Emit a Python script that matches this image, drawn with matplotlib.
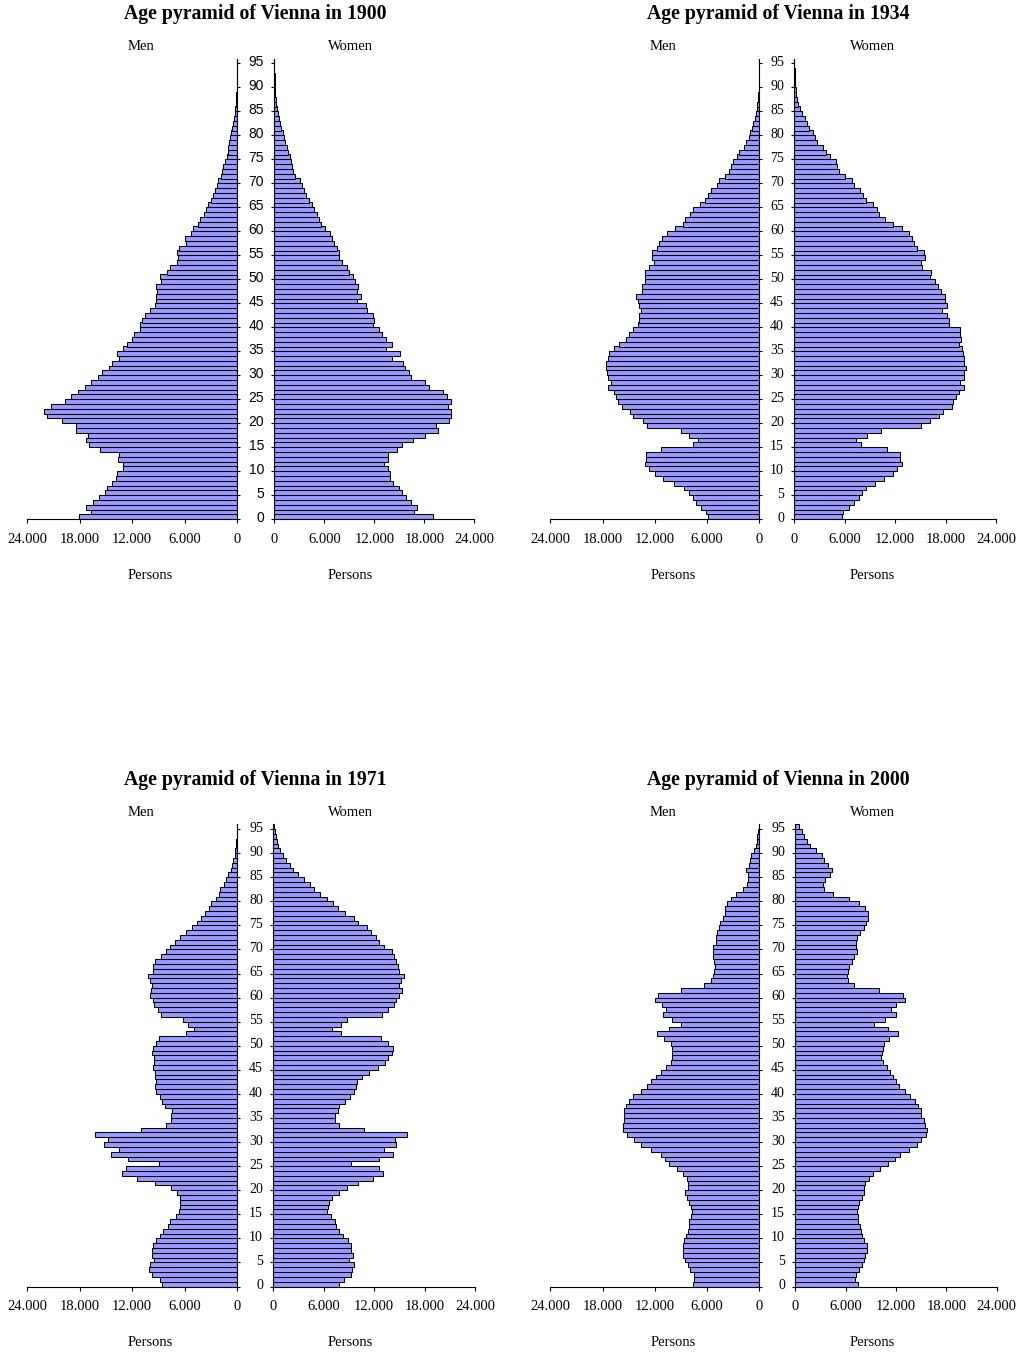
import numpy as np
import matplotlib
matplotlib.use("Agg")
import matplotlib.pyplot as plt
from matplotlib.ticker import FixedLocator, FuncFormatter, NullFormatter

# population by single year of age (thousands), ages 0..95
ages = np.arange(96)

men_1900 = [18.1, 16.7, 17.25, 16.45, 15.8, 15.1, 14.9, 14.3, 13.9, 13.7,
            13.1, 13.1, 13.6, 13.5, 15.7, 16.95, 17.25, 17.05, 18.45, 18.45,
            20.0, 21.7, 22.05, 21.3, 19.7, 19.05, 18.2, 17.4, 16.7, 15.9,
            15.4, 14.6, 14.3, 13.45, 13.75, 13.0, 12.6, 12.0, 11.75, 11.15,
            11.1, 10.85, 10.5, 9.9, 9.35, 9.25, 9.25, 9.15, 9.27, 8.66,
            8.82, 8.02, 7.67, 6.83, 6.72, 6.83, 6.6, 5.8, 5.92, 5.27,
            5.08, 4.47, 4.2, 3.74, 3.51, 3.28, 2.98, 2.71, 2.52, 2.29,
            2.18, 1.87, 1.76, 1.56, 1.34, 1.18, 1.07, 0.99, 0.88, 0.8,
            0.65, 0.53, 0.46, 0.34, 0.23, 0.18, 0.14, 0.1, 0.07, 0.05,
            0.035, 0.025, 0.015, 0.01, 0.005, 0.003]
women_1900 = [19.04, 16.8, 17.16, 16.4, 15.76, 15.36, 14.92, 14.28, 13.84, 13.88,
              13.6, 13.2, 13.68, 13.64, 14.76, 15.32, 16.64, 18.08, 19.64, 19.36,
              21.0, 21.24, 21.24, 20.88, 21.24, 20.72, 20.28, 18.6, 18.04, 16.36,
              16.2, 15.72, 15.48, 14.08, 15.12, 13.44, 14.16, 13.36, 12.92, 12.52,
              11.84, 11.96, 11.88, 11.12, 11.0, 9.96, 10.36, 9.96, 10.04, 9.7,
              9.4, 9.0, 8.68, 8.08, 7.72, 7.8, 7.52, 7.12, 6.88, 6.64,
              6.04, 5.56, 5.32, 5.08, 4.8, 4.48, 4.2, 3.84, 3.52, 3.28,
              3.08, 2.44, 2.28, 2.08, 2.0, 1.84, 1.64, 1.48, 1.32, 1.16,
              1.0, 0.8, 0.68, 0.6, 0.44, 0.32, 0.24, 0.16, 0.12, 0.08,
              0.06, 0.04, 0.03, 0.02, 0.01, 0.005]

men_1934 = [5.86, 6.13, 6.67, 7.32, 7.66, 8.05, 8.62, 9.81, 11.03, 12.03,
            12.61, 13.14, 12.99, 13.03, 11.34, 7.66, 7.09, 8.05, 9.0, 12.84,
            13.37, 14.48, 14.83, 15.75, 16.21, 16.44, 16.74, 17.43, 17.01, 17.32,
            17.51, 17.66, 17.66, 17.43, 17.24, 16.74, 16.09, 15.36, 15.02, 14.56,
            13.95, 13.79, 13.83, 13.6, 13.87, 13.95, 14.21, 13.52, 13.5, 13.1,
            13.1, 13.1, 12.64, 12.11, 12.3, 12.3, 11.69, 11.49, 11.15, 10.57,
            9.69, 8.74, 8.58, 7.97, 7.59, 6.82, 6.21, 5.86, 5.52, 4.9,
            4.64, 3.91, 3.45, 3.22, 2.99, 2.53, 2.3, 1.76, 1.49, 1.15,
            1.07, 0.8, 0.69, 0.5, 0.38, 0.27, 0.23, 0.15, 0.11, 0.08,
            0.06, 0.04, 0.03, 0.02, 0.01, 0.01]
women_1934 = [5.67, 5.83, 6.55, 7.14, 7.7, 8.1, 8.49, 9.56, 10.71, 11.79,
              12.26, 12.86, 12.62, 12.54, 11.07, 7.9, 7.38, 8.69, 10.36, 15.12,
              16.19, 17.22, 17.74, 18.81, 18.93, 19.29, 19.64, 20.24, 19.76, 20.24,
              20.16, 20.48, 20.16, 20.16, 20.12, 20.0, 19.64, 19.88, 19.76, 19.76,
              18.45, 18.45, 18.21, 17.62, 18.21, 17.9, 17.98, 17.5, 17.14, 16.71,
              16.19, 16.31, 15.24, 15.04, 15.6, 15.48, 14.64, 14.29, 14.05, 13.61,
              12.86, 11.79, 10.75, 10.12, 9.88, 9.33, 8.49, 8.21, 7.86, 7.14,
              6.9, 6.07, 5.36, 5.08, 4.96, 4.29, 3.81, 3.45, 2.66, 2.42,
              2.26, 1.75, 1.47, 1.23, 0.87, 0.67, 0.44, 0.32, 0.24, 0.16,
              0.12, 0.08, 0.05, 0.03, 0.02, 0.01]

men_1971 = [8.55, 8.85, 9.69, 10.11, 9.92, 9.47, 9.77, 9.77, 9.62, 9.24,
            8.78, 8.44, 7.86, 7.63, 7.02, 6.64, 6.49, 6.49, 6.53, 6.9,
            7.59, 9.35, 11.44, 13.16, 12.66, 8.96, 12.51, 14.38, 13.54, 15.22,
            14.72, 16.25, 11.02, 8.12, 7.55, 7.55, 7.47, 8.21, 8.55, 8.85,
            9.31, 9.39, 9.31, 9.39, 9.39, 9.57, 9.46, 9.5, 9.73, 9.65,
            9.27, 8.89, 5.84, 4.88, 5.64, 6.14, 8.73, 9.04, 9.46, 9.65,
            9.95, 9.88, 9.76, 9.92, 10.23, 9.66, 9.62, 9.43, 8.74, 8.17,
            7.67, 7.14, 6.53, 5.88, 5.11, 4.62, 4.08, 3.63, 3.17, 2.98,
            2.44, 2.06, 1.91, 1.49, 1.26, 0.99, 0.69, 0.53, 0.42, 0.27,
            0.19, 0.11, 0.08, 0.04, 0.02, 0.01]
women_1971 = [7.82, 8.45, 9.21, 9.4, 9.64, 9.05, 9.52, 9.29, 9.29, 8.85,
              8.33, 7.78, 7.5, 7.3, 6.9, 6.43, 6.55, 6.63, 6.98, 7.86,
              8.81, 10.12, 11.9, 13.1, 12.62, 9.21, 12.62, 14.29, 13.21, 14.61,
              14.49, 15.88, 10.83, 7.86, 7.38, 7.38, 7.74, 7.86, 8.57, 9.09,
              9.64, 9.88, 10.0, 10.56, 11.35, 12.5, 13.3, 13.69, 14.09, 14.29,
              13.69, 12.82, 8.1, 6.95, 8.02, 8.73, 12.9, 13.61, 14.4, 14.56,
              14.92, 15.28, 15.0, 15.24, 15.6, 14.92, 14.8, 14.6, 14.4, 14.09,
              13.21, 12.62, 12.22, 11.59, 11.11, 10.04, 9.56, 8.57, 7.7, 7.06,
              6.39, 5.6, 4.8, 4.37, 3.61, 2.9, 2.38, 1.98, 1.47, 1.11,
              0.83, 0.6, 0.4, 0.32, 0.24, 0.12]

men_2000 = [7.66, 7.46, 7.54, 8.0, 8.23, 8.5, 8.73, 8.8, 8.77, 8.61,
            8.42, 8.23, 8.08, 8.04, 7.89, 7.77, 7.81, 8.04, 8.31, 8.54,
            8.23, 8.15, 8.34, 8.73, 9.49, 10.37, 10.87, 11.33, 12.44, 13.55,
            14.43, 15.23, 15.62, 15.66, 15.58, 15.58, 15.54, 15.35, 15.0, 14.51,
            13.63, 12.86, 12.4, 11.87, 11.25, 10.68, 10.14, 10.03, 9.99, 10.0,
            10.18, 10.91, 11.71, 10.41, 8.96, 10.03, 11.06, 10.68, 11.18, 12.02,
            11.6, 9.03, 6.35, 5.51, 5.36, 5.21, 5.13, 5.24, 5.28, 5.28,
            5.32, 5.01, 4.94, 4.86, 4.67, 4.52, 4.21, 3.98, 3.91, 3.67,
            3.22, 2.72, 1.91, 1.38, 1.26, 1.34, 1.49, 1.22, 1.07, 0.96,
            0.61, 0.38, 0.31, 0.23, 0.15, 0.08]
women_2000 = [7.47, 7.15, 7.27, 7.63, 7.95, 8.14, 8.34, 8.5, 8.5, 8.14,
              7.95, 7.79, 7.67, 7.51, 7.51, 7.39, 7.43, 7.55, 7.91, 8.14,
              8.18, 8.34, 8.74, 9.22, 10.05, 11.0, 11.84, 12.51, 13.59, 14.46,
              14.94, 15.53, 15.69, 15.49, 15.3, 15.02, 14.94, 14.66, 14.22, 13.71,
              13.07, 12.32, 11.96, 11.68, 11.32, 10.89, 10.49, 10.21, 10.3, 10.4,
              10.61, 11.2, 12.2, 11.0, 9.34, 10.73, 11.96, 11.44, 11.96, 13.11,
              12.79, 10.01, 7.03, 6.32, 6.2, 6.24, 6.44, 6.75, 6.95, 7.31,
              7.27, 7.23, 7.39, 7.75, 8.22, 8.46, 8.62, 8.62, 8.34, 7.63,
              6.44, 4.53, 3.38, 3.3, 3.54, 4.13, 4.37, 3.89, 3.46, 3.14,
              2.42, 1.75, 1.39, 1.07, 0.79, 0.48]

x_ticks = [0, 6, 12, 18, 24]
age_labels = list(range(0, 96, 5))

W, H = 1029, 1352
BAR = "#9999FF"
SERIF = "Liberation Serif"
SANS = "Liberation Sans"

plt.rcParams["font.family"] = SERIF


def box(x0, x1, top, bottom):
    return [x0 / W, 1 - bottom / H, (x1 - x0) / W, (bottom - top) / H]


def persons(v, pos=None):
    return f"{int(round(v * 1000)):,}".replace(",", ".")


def text_at(fig, x, y, s, **kw):
    fig.text(x / W, 1 - y / H, s, ha="center", va="baseline", **kw)


def pyramid(fig, year, men, women, men_x, women_x, top, bottom, cx, mx, wx, pmx, age_font):
    ax_m = fig.add_axes(box(men_x[0], men_x[1], top, bottom))
    ax_w = fig.add_axes(box(women_x[0], women_x[1], top, bottom))

    for ax, vals in ((ax_m, men), (ax_w, women)):
        ax.barh(ages, vals, height=1.0, color=BAR, edgecolor="black", linewidth=0.75)
        ax.set_ylim(-0.5, 95.5)
        ax.set_xlim(0, 24)
        ax.xaxis.set_major_locator(FixedLocator(x_ticks))
        ax.xaxis.set_major_formatter(FuncFormatter(persons))
        ax.tick_params(axis="x", direction="out", length=3, width=0.8, pad=7, labelsize=10.5)
        ax.yaxis.set_major_locator(FixedLocator(np.arange(-0.5, 95, 5)))
        ax.yaxis.set_major_formatter(NullFormatter())
        ax.spines["top"].set_visible(False)
        for sp in ax.spines.values():
            sp.set_linewidth(0.8)
        ax.set_facecolor("none")

    ax_m.invert_xaxis()
    ax_m.spines["left"].set_visible(False)
    ax_m.yaxis.tick_right()
    ax_m.tick_params(axis="y", which="major", direction="out", length=2, width=0.8)

    ax_w.spines["right"].set_visible(False)
    ax_w.tick_params(axis="y", which="major", direction="out", length=2, width=0.8)
    ax_w.yaxis.set_minor_locator(FixedLocator(age_labels))
    ax_w.yaxis.set_minor_formatter(FuncFormatter(lambda v, p: f"{int(round(v))}"))
    ax_w.tick_params(axis="y", which="minor", length=0, pad=7.5, labelsize=10,
                     labelfontfamily=age_font)

    text_at(fig, cx, top - 39.2, f"Age pyramid of Vienna in {year}",
            fontsize=14.2, fontweight="bold")
    text_at(fig, mx, top - 8.5, "Men", fontsize=10.5)
    text_at(fig, wx, top - 8.5, "Women", fontsize=10.5)
    text_at(fig, pmx, bottom + 59.7, "Persons", fontsize=10.5)
    text_at(fig, wx, bottom + 59.7, "Persons", fontsize=10.5)


fig = plt.figure(figsize=(W / 100, H / 100), dpi=100)

pyramid(fig, 1900, men_1900, women_1900, (27.3, 237.0), (274.3, 474.3), 58.5, 519.3,
        255, 141, 350, 150, SANS)
pyramid(fig, 1934, men_1934, women_1934, (550.3, 759.3), (794.3, 996.0), 58.5, 519.3,
        778, 663, 872, 673, SERIF)
pyramid(fig, 1971, men_1971, women_1971, (27.3, 237.0), (273.3, 475.0), 824.3, 1286.5,
        255, 141, 350, 150, SERIF)
pyramid(fig, 2000, men_2000, women_2000, (550.3, 759.3), (795.3, 996.7), 824.3, 1286.5,
        778, 663, 872, 673, SERIF)

fig.savefig("out.png", dpi=100)
